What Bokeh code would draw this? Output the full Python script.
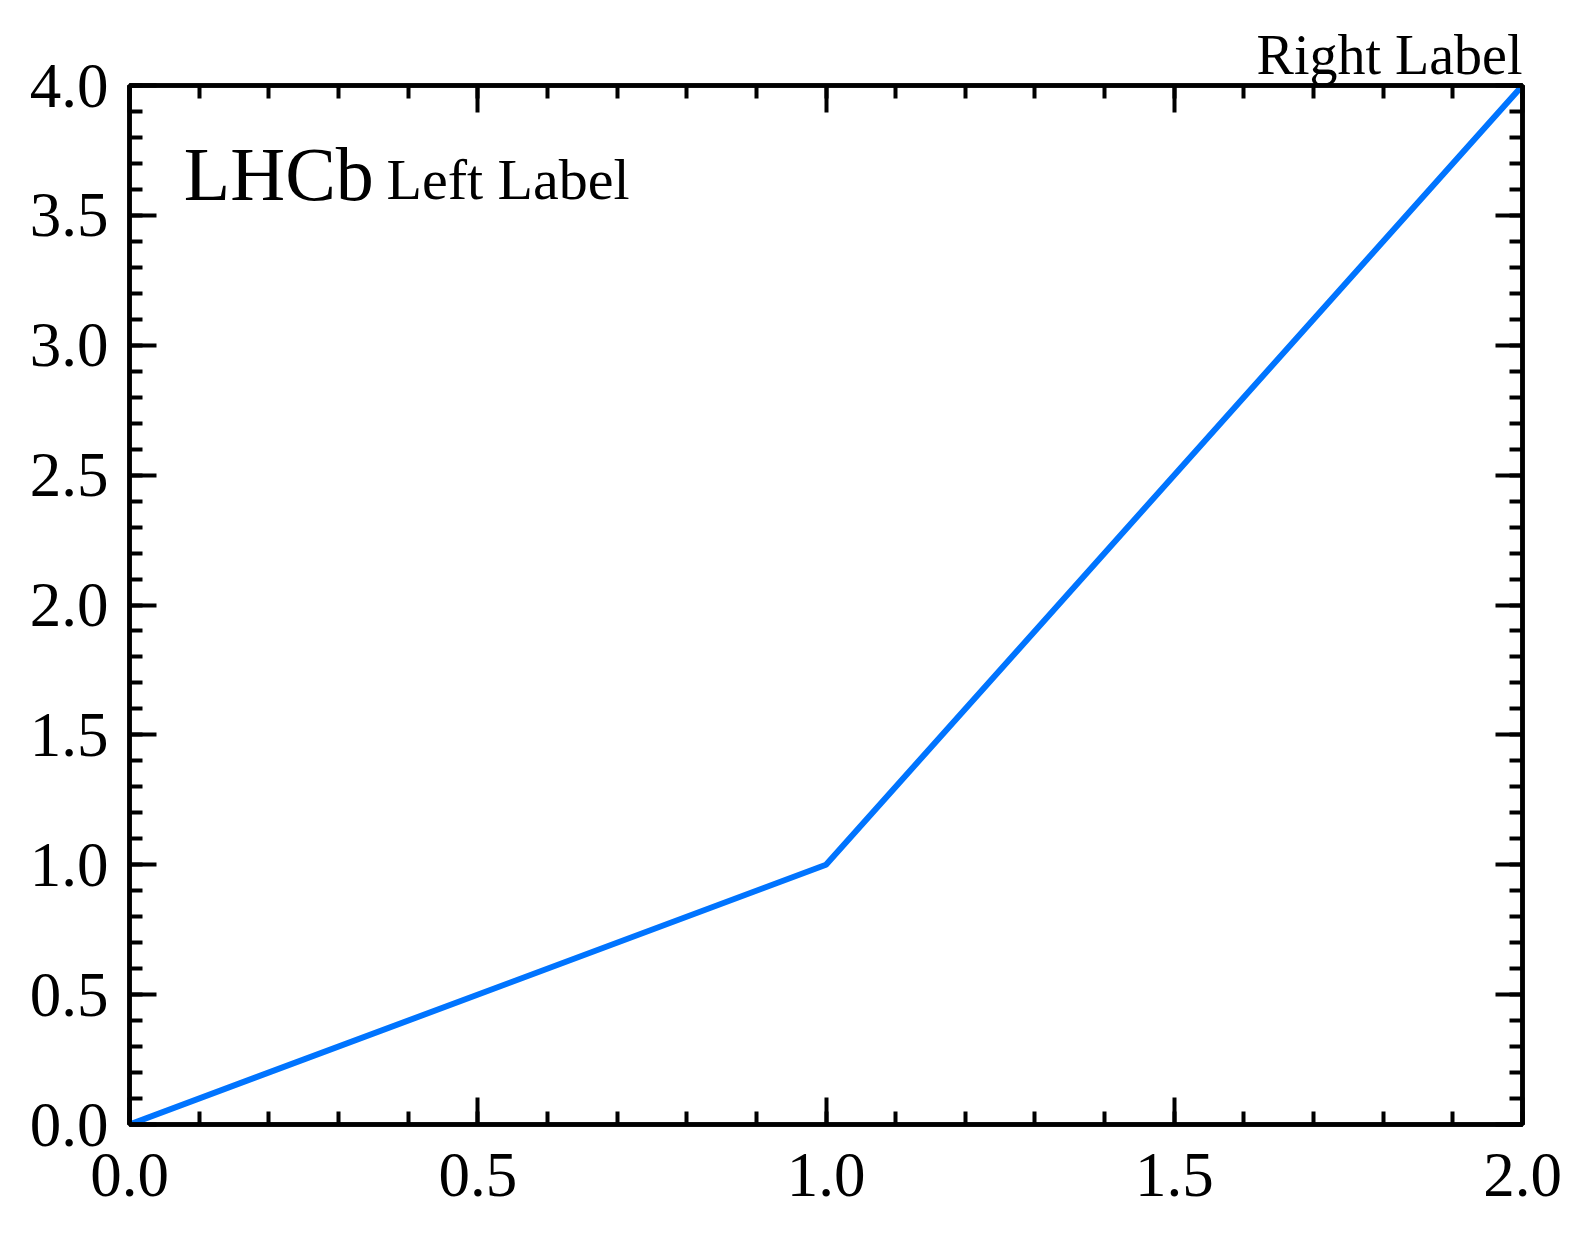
from bokeh.plotting import figure
from bokeh.models import Range1d, SingleIntervalTicker, PrintfTickFormatter, LinearAxis, Label
from bokeh.embed import file_html
from bokeh.resources import INLINE

x_vals = [0.0, 1.0, 2.0]
y_vals = [0.0, 1.0, 4.0]
lhcb_text = "LHCb"
left_text = "Left Label"
right_text = "Right Label"

FONT = "Liberation Serif"

p = figure(width=1576, height=1222, output_backend="svg", toolbar_location=None,
           x_range=Range1d(0, 2), y_range=Range1d(0, 4),
           min_border_left=129, min_border_right=54, min_border_top=85, min_border_bottom=98)
p.xaxis.visible = False
p.yaxis.visible = False
p.grid.visible = False
p.outline_line_color = "black"
p.outline_line_width = 4.5
p.background_fill_color = "white"
p.border_fill_color = "white"

p.title.text = right_text
p.title.align = "right"
p.title.text_font = FONT
p.title.text_font_size = "56px"
p.title.text_font_style = "normal"
p.title.text_color = "black"
p.title.standoff = 0
p.title.offset = 0

def make_axis(show_labels, standoff):
    ax = LinearAxis(ticker=SingleIntervalTicker(interval=0.5, num_minor_ticks=5),
                    formatter=PrintfTickFormatter(format="%.1f"))
    ax.axis_line_width = 4.5
    ax.axis_line_color = "black"
    ax.major_tick_line_width = 4
    ax.minor_tick_line_width = 4
    ax.major_tick_in = 27
    ax.major_tick_out = 0
    ax.minor_tick_in = 13
    ax.minor_tick_out = 0
    ax.major_label_text_font = FONT
    if show_labels:
        ax.major_label_text_font_size = "63px"
        ax.major_label_text_color = "black"
    else:
        ax.major_label_text_font_size = "0px"
        ax.major_label_text_color = None
    ax.major_label_standoff = standoff
    return ax

p.add_layout(make_axis(True, 29), "below")
p.add_layout(make_axis(True, 21), "left")
p.add_layout(make_axis(False, 0), "above")
p.add_layout(make_axis(False, 0), "right")

p.line(x_vals, y_vals, line_color="#0074ff", line_width=6)

p.add_layout(Label(x=0.078, y=3.659, text=lhcb_text, text_font=FONT, text_font_size="76px",
                   text_color="black", text_baseline="alphabetic"))
p.add_layout(Label(x=0.369, y=3.638, text=left_text, text_font=FONT, text_font_size="58px",
                   text_color="black", text_baseline="alphabetic"))

open("out.html", "w").write(file_html(p, INLINE))
